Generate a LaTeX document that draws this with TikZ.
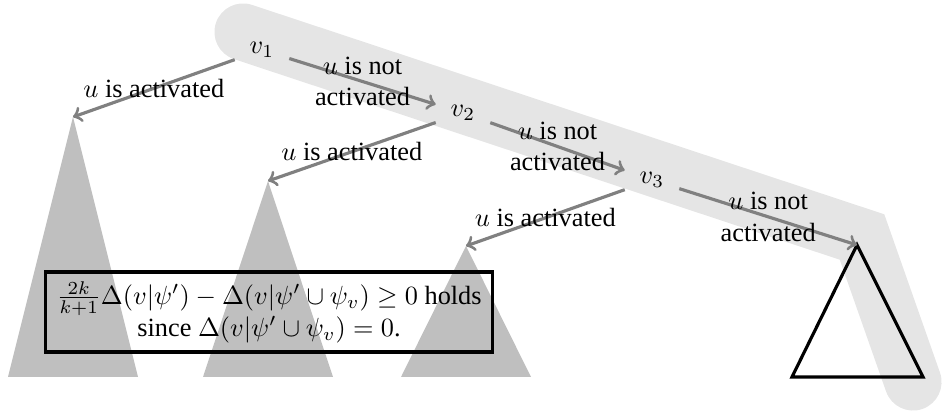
\documentclass[tikz,border=0pt]{standalone}
\usepackage{amsmath,amssymb}
\usepackage{fontspec}
\setmainfont{Liberation Serif}
\usetikzlibrary{arrows,positioning,calc}

\begin{document}
\begin{tikzpicture}[x=0.38pt, y=-0.38pt, >=to,
    vnode/.style={inner sep=5.5pt},
    edge/.style={->, very thick, gray},
    lbl/.style={midway, align=center, inner sep=0pt},
    subtree/.style={fill=gray!50},
    path/.style={line width=21.7pt, gray!20, line cap=round}]
    \useasboundingbox (0,0) rectangle (946,415);
    % Highlighted path
    \draw[path] (243,32) -- (862,237) -- (913,382);
    % Nodes
    \node[vnode] (v1) at (262,50) {$v_1$};
    \node[vnode] (v2) at (463,113) {$v_2$};
    \node[vnode] (v3) at (652,180) {$v_3$};
    \coordinate (t1) at (73,117);
    \coordinate (t2) at (268,181);
    \coordinate (t3) at (466,246);
    \coordinate (t4) at (857,245);
    % Subtrees
    \fill[subtree] (t1) -- ++(-65,260) -- ++(130,0) -- cycle;
    \fill[subtree] (t2) -- ++(-65,196) -- ++(130,0) -- cycle;
    \fill[subtree] (t3) -- ++(-65,131) -- ++(130,0) -- cycle;
    \draw[very thick] (t4) -- ++(-65,132) -- ++(131,0) -- cycle;
    % Arrows
    \draw[edge] (v1) -- node[lbl, text=black] {$u$ is activated} (t1);
    \draw[edge] (v1) -- node[lbl, text=black] {$u$ is not\\activated} (v2);
    \draw[edge] (v2) -- node[lbl, text=black] {$u$ is activated} (t2);
    \draw[edge] (v2) -- node[lbl, text=black] {$u$ is not\\activated} (v3);
    \draw[edge] (v3) -- node[lbl, text=black] {$u$ is activated} (t3);
    \draw[edge] (v3) -- node[lbl, text=black] {$u$ is not\\activated} (t4);
    % Note
    \node[draw, very thick, align=center, minimum width=170pt, minimum height=30.4pt, inner sep=2pt] (note) at (269,312)
        {$\frac{2k}{k+1}\Delta(v|\psi')-\Delta(v|\psi'\cup\psi_v)\geq 0$ holds\\since $\Delta(v|\psi'\cup\psi_v)=0$.};
\end{tikzpicture}
\end{document}
